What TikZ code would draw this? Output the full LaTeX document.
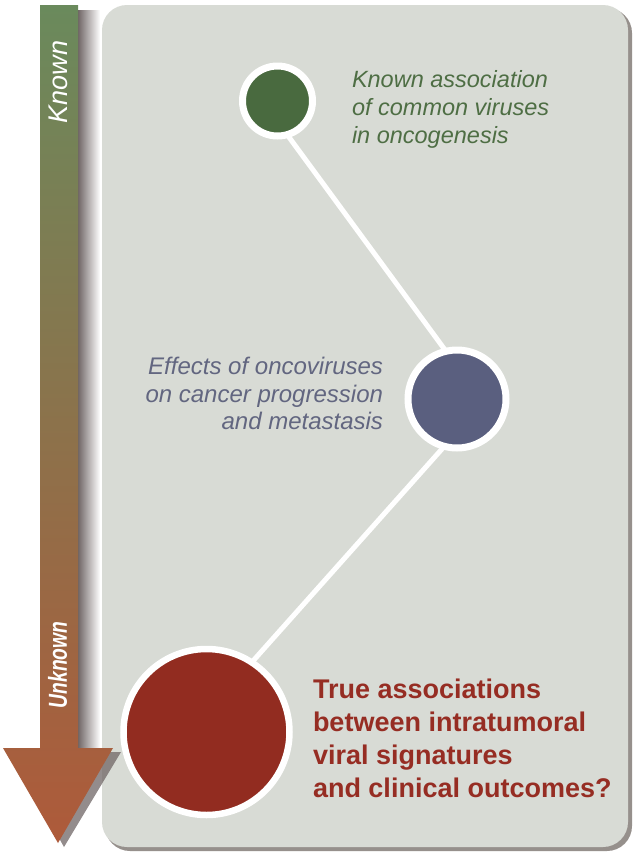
\documentclass[tikz,border=0pt]{standalone}
\usepackage{fontspec}
\usepackage{graphicx}
\setmainfont{Liberation Sans}
\definecolor{panel}{RGB}{216,219,213}
\definecolor{panelshadow}{RGB}{150,144,140}
\definecolor{barshadow}{RGB}{112,102,102}
\definecolor{bartop}{RGB}{106,138,92}
\definecolor{barmid}{RGB}{130,124,84}
\definecolor{barbot}{RGB}{174,90,58}
\definecolor{cgreen}{RGB}{73,106,63}
\definecolor{cblue}{RGB}{90,95,127}
\definecolor{cred}{RGB}{146,44,32}
\definecolor{tgreen}{RGB}{78,110,68}
\definecolor{tblue}{RGB}{98,102,128}
\definecolor{tred}{RGB}{150,45,35}
\begin{document}
\begin{tikzpicture}[x=1pt,y=-1pt,
  ring/.style={circle, draw=white, inner sep=0pt, outer sep=0pt},
  link/.style={draw=white, line width=5pt},
  lbl/.style={inner sep=0pt, outer sep=0pt},
  barlbl/.style={rotate=90, text=white, inner sep=0pt},
]
\useasboundingbox[fill=white] (0,0) rectangle (635,855);
% panel and its shadow
\fill[panelshadow, rounded corners=25pt] (105,8) rectangle (632,851);
\fill[panel, rounded corners=25pt] (102,5) rectangle (628,847);
% shadow of the arrow
\shade[left color=barshadow, right color=white] (78,10) rectangle (100,752);
\fill[barshadow, opacity=0.75] (11,752) -- (121,752) -- (64,847) -- cycle;
% gradient arrow
\shade[top color=bartop, middle color=barmid, bottom color=barbot]
  (40,5) -- (78,5) -- (78,748) -- (113,748) -- (58,843) -- (3,748) -- (40,748) -- cycle;
\node[barlbl, font=\fontsize{27}{30}\selectfont\itshape] (known) at (58,82) {Known};
\node[barlbl, font=\fontsize{26}{30}\selectfont\bfseries\itshape] (unknown) at (57.5,665) {\scalebox{0.74}[1]{Unknown}};
% circles
\node[ring, fill=cgreen, line width=7pt, minimum size=70pt] (green) at (277.5,101) {};
\node[ring, fill=cblue, line width=7pt, minimum size=98pt] (blue) at (457,399) {};
\node[ring, fill=cred, line width=6.5pt, minimum size=166pt] (red) at (206.5,732) {};
% connectors
\draw[link] (green.286) -- (blue.103);
\draw[link] (blue.255) -- (red.57);
% texts
\node[lbl, anchor=north west, align=left, text=tgreen, font=\fontsize{23.5}{28}\selectfont\itshape] (t1) at (352,70)
  {Known association\\of common viruses\\in oncogenesis};
\node[lbl, anchor=north east, align=right, text=tblue, font=\fontsize{24}{27.5}\selectfont\itshape] (t2) at (383,357.5)
  {Effects of oncoviruses\\on cancer progression\\and metastasis};
\node[lbl, anchor=north west, align=left, text=tred, font=\fontsize{27}{33.3}\selectfont\bfseries] (t3) at (313,678.5)
  {True associations\\between intratumoral\\viral signatures\\and clinical outcomes?};
\end{tikzpicture}
\end{document}
